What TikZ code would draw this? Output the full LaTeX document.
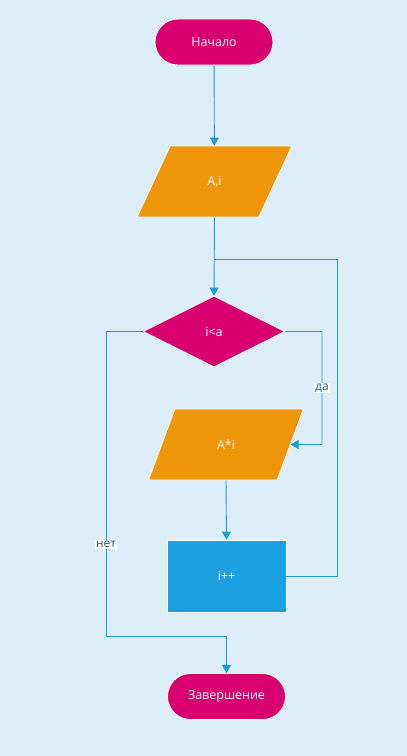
\documentclass[tikz,border=0pt]{standalone}
\usepackage{fontspec}
\setmainfont{Open Sans}
\usetikzlibrary{shapes.geometric,arrows.meta}
\definecolor{bg}{HTML}{DCEEF9}
\definecolor{mag}{HTML}{D8006F}
\definecolor{org}{HTML}{F0960A}
\definecolor{blu}{HTML}{1BA0E0}
\definecolor{ln}{HTML}{1E9AD8}
\definecolor{lbl}{HTML}{205E8E}
\tikzset{
  base/.style={draw=white, line width=0.8pt, text=white, font=\fontsize{12.5}{14}\selectfont, inner sep=0pt},
  term/.style={base, fill=mag, rectangle, rounded corners=23pt, minimum width=118pt, minimum height=46pt},
  io/.style={base, fill=org, trapezium, trapezium left angle=64, trapezium right angle=116, trapezium stretches=true, minimum width=155pt, minimum height=71pt},
  dec/.style={base, fill=mag, diamond, minimum width=142pt, minimum height=71pt},
  proc/.style={base, fill=blu, rectangle, minimum width=119pt, minimum height=72pt},
  conn/.style={draw=ln, line width=0.9pt, -{Triangle[width=9pt,length=8pt]}},
  plain/.style={draw=ln, line width=0.9pt},
  lab/.style={fill=white, text=lbl, inner sep=1pt, font=\fontsize{12}{14}\selectfont}
}
\begin{document}
\begin{tikzpicture}[x=1pt,y=-1pt]
\fill[bg] (0,0) rectangle (407,756);
\useasboundingbox (0,0) rectangle (407,756);
\node[term] (start) at (214,42) {Начало};
\node[io] (in) at (214.5,181.5) {A,i};
\node[dec] (cond) at (214,331.5) {i<a};
\node[io] (out) at (226,444.5) {A*i};
\node[proc] (inc) at (226.5,576) {i++};
\node[term] (end) at (226.5,696.5) {Завершение};
\coordinate (j) at (214,259);
\coordinate (r1) at (322,331.5);
\coordinate (r2) at (322,444.5);
\coordinate (l1) at (106,331.5);
\coordinate (l2) at (106,636);
\coordinate (l3) at (226.5,636);
\coordinate (b1) at (337,576);
\coordinate (b2) at (337,259);
\draw[conn] (start) -- (in);
\draw[conn] (in.south) -- (cond.north);
\draw[conn] (cond.east) -- (r1) -- node[lab, pos=0.5]{да} (r2) -- (out.east);
\draw[conn] (out.south) -- (inc.north);
\draw[plain] (inc.east) -- (b1) -- (b2) -- (j);
\draw[conn] (cond.west) -- (l1) -- node[lab, pos=0.7]{нет} (l2) -- (l3) -- (end.north);
\end{tikzpicture}
\end{document}
